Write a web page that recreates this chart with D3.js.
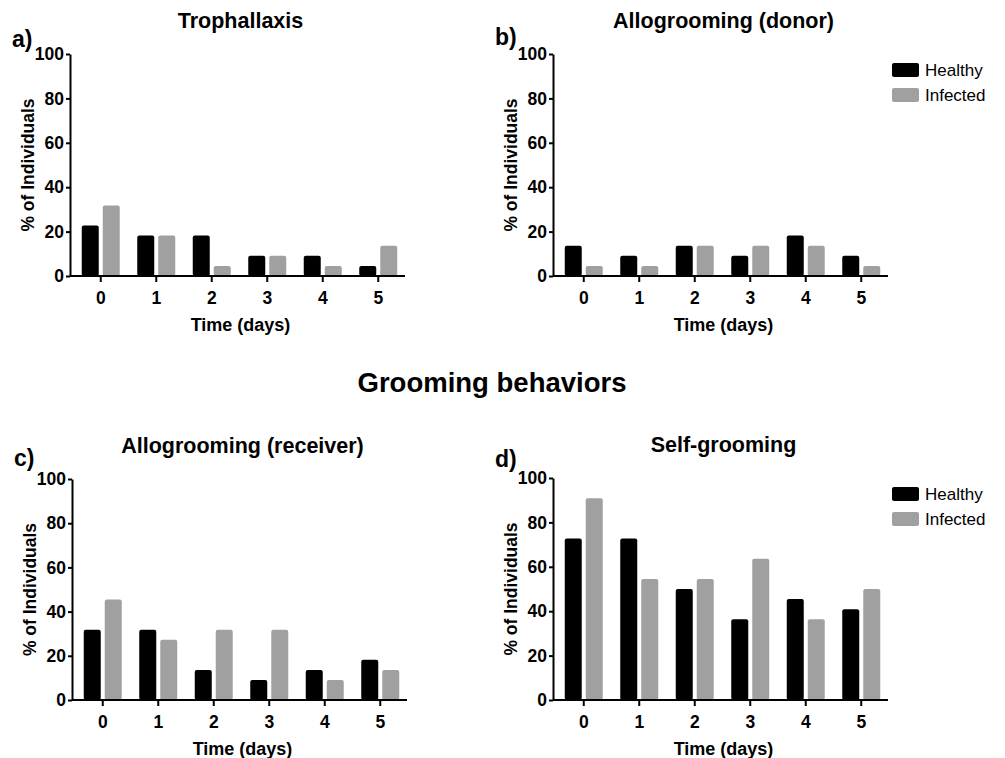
<!DOCTYPE html>
<html>
<head>
<meta charset="utf-8">
<script src="https://cdn.jsdelivr.net/npm/d3@7"></script>
<style>
  body { margin: 0; background: #fff; }
  svg text { font-family: "Liberation Sans", Arial, sans-serif; fill: #000; }
  .tick text { font-weight: bold; font-size: 17.5px; }
  .domain, .tick line { stroke: #000; stroke-width: 2px; }
</style>
</head>
<body>
<script>
/*
 * Chart data: % of individuals per day, healthy vs infected.
 */

const DAYS = ['0', '1', '2', '3', '4', '5'];
const SERIES = ['Healthy', 'Infected'];
const Y_TICKS = [0, 20, 40, 60, 80, 100];

const trophHealthy = [22.7, 18.2, 18.2, 9.1, 9.1, 4.5];
const trophInfected = [31.8, 18.2, 4.5, 9.1, 4.5, 13.6];

const donorHealthy = [13.6, 9.1, 13.6, 9.1, 18.2, 9.1];
const donorInfected = [4.5, 4.5, 13.6, 13.6, 13.6, 4.5];

const receiverHealthy = [31.8, 31.8, 13.6, 9.1, 13.6, 18.2];
const receiverInfected = [45.5, 27.3, 31.8, 31.8, 9.1, 13.6];

const selfHealthy = [72.7, 72.7, 50, 36.4, 45.5, 40.9];
const selfInfected = [90.9, 54.5, 54.5, 63.6, 36.4, 50];

const COLORS = { Healthy: '#000000', Infected: '#a0a0a0' };

/*
 * Panel layout (page pixels).
 */

const panels = [
  { label: 'a)', title: 'Trophallaxis', healthy: trophHealthy, infected: trophInfected,
    x0: 70, x1: 405, yTop: 54, yBot: 276, labelDy: 7, legend: false },
  { label: 'b)', title: 'Allogrooming (donor)', healthy: donorHealthy, infected: donorInfected,
    x0: 553, x1: 888, yTop: 54, yBot: 276, labelDy: 9, legend: true },
  { label: 'c)', title: 'Allogrooming (receiver)', healthy: receiverHealthy, infected: receiverInfected,
    x0: 72, x1: 407, yTop: 479, yBot: 700, labelDy: 13, legend: false },
  { label: 'd)', title: 'Self-grooming', healthy: selfHealthy, infected: selfInfected,
    x0: 553, x1: 888, yTop: 478, yBot: 700, labelDy: 11, legend: true }
];

const svg = d3.select('body')
  .append('svg')
    .attr('width', 1005)
    .attr('height', 758);

// main heading between the two rows
svg.append('text')
    .attr('x', 492)
    .attr('y', 392)
    .attr('text-anchor', 'middle')
    .style('font-weight', 'bold')
    .style('font-size', '27.5px')
    .text('Grooming behaviors');

const plotPanel = p => {
  const g = svg.append('g');

  const x = d3.scaleBand()
      .domain(DAYS)
      .range([p.x0 + 3, p.x1 + 1]);

  // healthy / infected offsets inside each day
  const inner = d3.scaleBand()
      .domain(SERIES)
      .range([-19, 19])
      .paddingInner(4 / 21);

  const y = d3.scaleLinear()
      .domain([0, 100])
      .range([p.yBot, p.yTop]);

  const rows = DAYS.map((d, i) => ({
    day: d,
    Healthy: p.healthy[i],
    Infected: p.infected[i]
  }));

  // bars
  g.selectAll('.day')
    .data(rows)
    .enter()
    .append('g')
      .attr('transform', d => `translate(${x(d.day) + x.bandwidth() / 2}, 0)`)
    .selectAll('rect')
    .data(d => SERIES.map(s => ({ series: s, value: d[s] })))
    .enter()
    .append('rect')
      .attr('x', d => inner(d.series))
      .attr('y', d => y(d.value))
      .attr('width', inner.bandwidth())
      .attr('height', d => y(0) - y(d.value))
      .attr('rx', 2)
      .attr('fill', d => COLORS[d.series]);

  // y axis
  g.append('g')
      .attr('transform', `translate(${p.x0}, 0)`)
      .call(d3.axisLeft(y).tickValues(Y_TICKS).tickSize(4).tickPadding(2).tickSizeOuter(0));

  // x axis (domain drawn across the full plot width)
  const xAxis = g.append('g')
      .attr('transform', `translate(0, ${p.yBot})`)
      .call(d3.axisBottom(x).tickSize(6).tickPadding(6).tickSizeOuter(0));
  xAxis.select('.domain').attr('d', `M${p.x0},0H${p.x1}`);
  xAxis.selectAll('.tick text').attr('dy', '0.9em');

  // axis titles
  g.append('text')
      .attr('x', (p.x0 + p.x1) / 2 + 3)
      .attr('y', p.yBot + 55)
      .attr('text-anchor', 'middle')
      .style('font-weight', 'bold')
      .style('font-size', '18px')
      .text('Time (days)');

  g.append('text')
      .attr('transform', `translate(${p.x0 - 36}, ${(p.yTop + p.yBot) / 2}) rotate(-90)`)
      .attr('text-anchor', 'middle')
      .style('font-weight', 'bold')
      .style('font-size', '17.5px')
      .text('% of Individuals');

  // panel title and letter
  g.append('text')
      .attr('x', (p.x0 + p.x1) / 2 + 3)
      .attr('y', p.yTop - 26)
      .attr('text-anchor', 'middle')
      .style('font-weight', 'bold')
      .style('font-size', '21.5px')
      .text(p.title);

  g.append('text')
      .attr('x', p.x0 - 58)
      .attr('y', p.yTop - p.labelDy)
      .style('font-weight', 'bold')
      .style('font-size', '23px')
      .text(p.label);

  // legend
  if (p.legend) {
    const lg = g.append('g')
        .attr('transform', `translate(${p.x1 + 4}, ${p.yTop + 9})`);

    const item = lg.selectAll('.legend-item')
      .data(SERIES)
      .enter()
      .append('g')
        .attr('transform', (d, i) => `translate(0, ${i * 25})`);

    item.append('rect')
        .attr('width', 27)
        .attr('height', 14)
        .attr('rx', 2)
        .attr('fill', d => COLORS[d]);

    item.append('text')
        .attr('x', 33)
        .attr('y', 13)
        .style('font-size', '17px')
        .text(d => d);
  }
};

panels.forEach(plotPanel);
</script>
</body>
</html>
